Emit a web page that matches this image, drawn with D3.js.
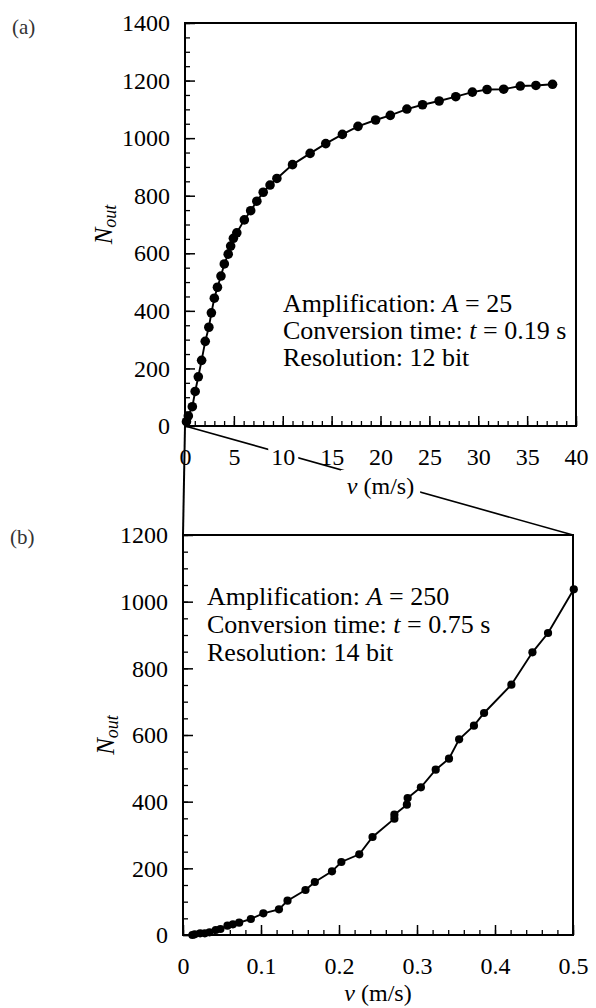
<!DOCTYPE html>
<html><head><meta charset="utf-8">
<script src="https://cdn.jsdelivr.net/npm/d3@7"></script>
<style>
html,body{margin:0;padding:0;background:#fff;}
svg{display:block;}
svg text{font-family:"Liberation Serif","Times New Roman",Times,"DejaVu Serif",serif !important;fill:#000;}
</style></head>
<body>
<svg id="c" width="596" height="1008"></svg>
<script>
// ---- data ----
const topV = [0.15,0.34,0.75,1.04,1.36,1.70,2.07,2.44,2.70,3.00,3.32,3.68,4.02,4.42,4.67,4.95,5.30,6.07,6.72,7.35,8.0,8.7,9.4,11.0,12.8,14.4,16.1,17.7,19.5,21.0,22.7,24.3,26.0,27.7,29.4,30.9,32.6,34.3,35.9,37.6];
const topN = [15,35,67,120,171,228,294,343,393,444,482,521,563,597,625,652,671,716,748,781,812,837,860,908,947,981,1013,1041,1063,1079,1101,1116,1129,1144,1160,1169,1170,1181,1183,1187];
const botV = [0.012,0.015,0.022,0.028,0.034,0.042,0.048,0.057,0.064,0.072,0.087,0.103,0.123,0.134,0.157,0.169,0.191,0.203,0.226,0.243,0.271,0.271,0.287,0.288,0.305,0.324,0.341,0.354,0.373,0.386,0.421,0.448,0.468,0.501];
const botN = [0,2,5,5,8,15,18,28,32,37,48,65,77,103,135,159,191,219,242,294,349,361,391,411,443,496,529,587,628,666,751,848,906,1037];
const topXTicks = [0,5,10,15,20,25,30,35,40];
const topYTicks = [0,200,400,600,800,1000,1200,1400];
const botXTicks = [0,0.1,0.2,0.3,0.4,0.5];
const botYTicks = [0,200,400,600,800,1000,1200];
const topText = [["Amplification: ","A"," = 25"],["Conversion time: ","t"," = 0.19 s"],["Resolution: 12 bit"]];
const botText = [["Amplification: ","A"," = 250"],["Conversion time: ","t"," = 0.75 s"],["Resolution: 14 bit"]];

const svg = d3.select("#c");
const FS = 24;

function panel(o){
  const x = d3.scaleLinear().domain(o.xd).range(o.xr);
  const y = d3.scaleLinear().domain(o.yd).range(o.yr);
  const g = svg.append("g");
  // minor ticks
  g.append("g").attr("transform",`translate(0,${o.yr[0]})`)
    .call(d3.axisBottom(x).tickValues(d3.range(o.xd[0],o.xd[1]+1e-9,o.xMinor)).tickSizeInner(-5).tickSizeOuter(0).tickFormat(""))
    .call(a=>a.select(".domain").remove()).selectAll("line").attr("stroke","#000").attr("stroke-width",1.3);
  g.append("g").attr("transform",`translate(${o.xr[0]},0)`)
    .call(d3.axisLeft(y).tickValues(d3.range(o.yd[0],o.yd[1]+1e-9,o.yMinor)).tickSizeInner(-5).tickSizeOuter(0).tickFormat(""))
    .call(a=>a.select(".domain").remove()).selectAll("line").attr("stroke","#000").attr("stroke-width",1.3);
  // major ticks + labels
  const xa = g.append("g").attr("transform",`translate(0,${o.yr[0]})`)
    .call(d3.axisBottom(x).tickValues(o.xt).tickSizeInner(-10).tickSizeOuter(0).tickPadding(22).tickFormat(o.xf));
  xa.attr("font-family",null).attr("font-size",null);
  xa.select(".domain").remove();
  xa.selectAll("line").attr("stroke","#000").attr("stroke-width",1.5);
  xa.selectAll("text").attr("font-size",FS).attr("fill","#000");
  const ya = g.append("g").attr("transform",`translate(${o.xr[0]},0)`)
    .call(d3.axisLeft(y).tickValues(o.yt).tickSizeInner(-10).tickSizeOuter(0).tickPadding(15).tickFormat(d3.format("d")));
  ya.attr("font-family",null).attr("font-size",null);
  ya.select(".domain").remove();
  ya.selectAll("line").attr("stroke","#000").attr("stroke-width",1.5);
  ya.selectAll("text").attr("font-size",FS).attr("fill","#000");
  // box
  g.append("rect").attr("x",o.xr[0]).attr("y",o.yr[1]).attr("width",o.xr[1]-o.xr[0]).attr("height",o.yr[0]-o.yr[1])
    .attr("fill","none").attr("stroke","#000").attr("stroke-width",2);
  // data
  const pts = o.v.map((v,i)=>[v,o.n[i]]);
  g.append("path").datum(pts).attr("fill","none").attr("stroke","#000").attr("stroke-width",1.9)
    .attr("d",d3.line().x(d=>x(d[0])).y(d=>y(d[1])));
  g.selectAll("circle.p").data(pts).enter().append("circle").attr("class","p")
    .attr("cx",d=>x(d[0])).attr("cy",d=>y(d[1])).attr("r",o.r).attr("fill","#000");
  // annotation
  const t = g.append("text").attr("font-size",26);
  o.txt.forEach((line,i)=>{
    line.forEach((s,j)=>{
      const ts = t.append("tspan").text(s);
      if(j===0) ts.attr("x",o.tx).attr("y",o.ty+i*o.tl);
      if(j===1) ts.attr("font-style","italic");
    });
  });
  // y label
  const yl = g.append("text").attr("transform",`translate(${o.ylx},${(o.yr[0]+o.yr[1])/2}) rotate(-90)`)
    .attr("text-anchor","middle").attr("font-size",25).attr("font-style","italic");
  yl.append("tspan").text("N");
  yl.append("tspan").text("out").attr("font-size",18).attr("dy",4);
  // x label
  const xl = g.append("text").attr("x",(o.xr[0]+o.xr[1])/2).attr("y",o.xly).attr("text-anchor","middle").attr("font-size",FS);
  xl.append("tspan").text("v").attr("font-style","italic");
  xl.append("tspan").text(" (m/s)");
  // panel label
  svg.append("text").attr("x",o.lx).attr("y",o.ly).attr("font-size",21).style("fill","#333").text(o.label);
  return {x,y,g,xa,xl};
}

const A = panel({xd:[0,40],xr:[185,576],yd:[0,1400],yr:[426,23],xMinor:1,yMinor:50,xt:topXTicks,yt:topYTicks,
  xf:d3.format("d"),v:topV,n:topN,r:4.8,txt:topText,tx:283,ty:312,tl:27,ylx:112,xly:494,label:"(a)",lx:12,ly:34});
const B = panel({xd:[0,0.5],xr:[183,573],yd:[0,1200],yr:[935,535],xMinor:0.02,yMinor:50,xt:botXTicks,yt:botYTicks,
  xf:d=>d===0?"0":d3.format(".1f")(d),v:botV,n:botN,r:4.1,txt:botText,tx:207,ty:605,tl:28,ylx:114,xly:1001,label:"(b)",lx:10,ly:544});

// zoom connector lines from (a) origin to (b) top corners
const conn = svg.insert("g",":first-child");
conn.append("line").attr("x1",A.x(0)).attr("y1",A.y(0)).attr("x2",B.x(0)).attr("y2",B.y(1200)).attr("stroke","#000").attr("stroke-width",2);
conn.append("line").attr("x1",A.x(0)).attr("y1",A.y(0)).attr("x2",B.x(0.5)).attr("y2",B.y(1200)).attr("stroke","#000").attr("stroke-width",1.6);
// white gaps behind the labels the connector crosses
function gap(node,pad){
  const b = node.getBBox();
  const ctm = node.getCTM();
  conn.append("rect").attr("x",b.x+ctm.e-pad).attr("y",b.y+ctm.f-pad+3).attr("width",b.width+2*pad).attr("height",b.height+2*pad-6).attr("fill","#fff");
}
A.xa.selectAll(".tick").filter(d=>d===10).select("text").each(function(){gap(this,3);});
gap(A.xl.node(),6);
</script>
</body></html>
